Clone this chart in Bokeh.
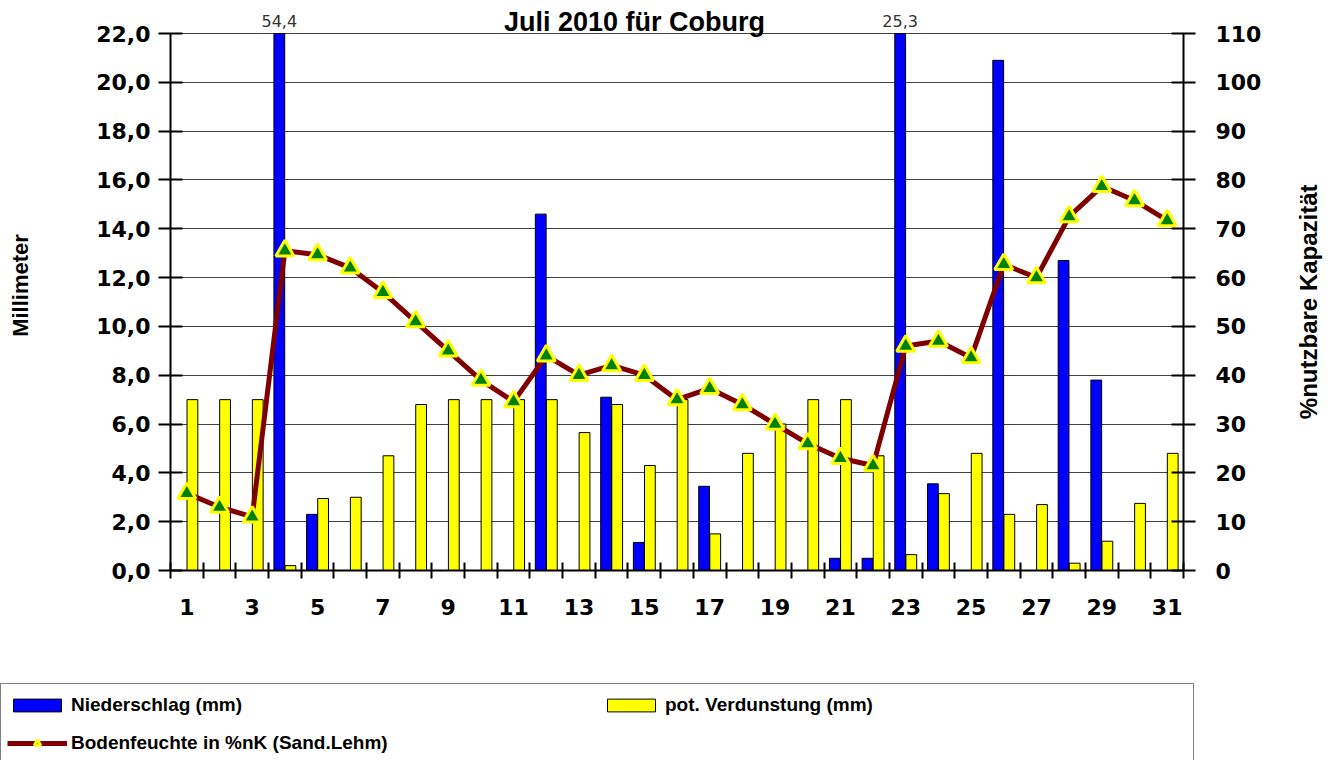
import math
from bokeh.plotting import figure
from bokeh.layouts import row, column
from bokeh.models import (ColumnDataSource, Range1d, LinearAxis, FixedTicker,
                          CustomJSTickFormatter, Legend, LegendItem)
from bokeh.transform import dodge
from bokeh.embed import file_html
from bokeh.resources import INLINE
from bokeh.core.properties import value

# ---------------- data ----------------
title_text = "Juli 2010 für Coburg"
left_label = "Millimeter"
right_label = "%nutzbare Kapazität"
days = list(range(1, 32))
niederschlag = [0, 0, 0, 54.4, 2.3, 0, 0, 0, 0, 0, 0, 14.6, 0, 7.1, 1.15, 0, 3.45, 0,
                0, 0, 0.5, 0.5, 25.3, 3.55, 0, 20.9, 0, 12.7, 7.8, 0, 0]
verdunstung = [7.0, 7.0, 7.0, 0.2, 2.95, 3.0, 4.7, 6.8, 7.0, 7.0, 7.0, 7.0, 5.65, 6.8,
               4.3, 7.0, 1.5, 4.8, 6.0, 7.0, 7.0, 4.7, 0.65, 3.15, 4.8, 2.3, 2.7, 0.3,
               1.2, 2.75, 4.8]
bodenfeuchte = [15.8, 13.0, 11.0, 65.5, 64.7, 62.0, 57.0, 51.0, 45.0, 39.0, 34.6, 44.0,
                40.0, 42.0, 40.0, 35.0, 37.3, 34.0, 30.0, 26.0, 23.0, 21.5, 46.0, 47.0,
                43.6, 62.7, 60.0, 72.5, 78.7, 75.8, 71.7]
mm_ticks = [0, 2, 4, 6, 8, 10, 12, 14, 16, 18, 20, 22]
pct_ticks = [0, 10, 20, 30, 40, 50, 60, 70, 80, 90, 100, 110]
x_labels = [d for d in days if d % 2 == 1]
legend_labels = ["Niederschlag (mm)", "pot. Verdunstung (mm)", "Bodenfeuchte in %nK (Sand.Lehm)"]
MM_MAX = 22
PCT_MAX = 110

# ---------------- layout constants (pixels) ----------------
W_MAIN, H_MAIN = 1290, 630
W_SIDE = 40
H_LEG = 130
FRAME_L, FRAME_R, FRAME_T, FRAME_B = 170, 1183, 0, 570
AXIS_TOP_PX = 33                      # where 22,0 / 110 sit
scale = (FRAME_B - FRAME_T) / (FRAME_B - AXIS_TOP_PX)
Y_TOP = MM_MAX * scale                # frame extends above the axis top (room for title/labels)
P_TOP = PCT_MAX * scale
PX_PER_MM = (FRAME_B - AXIS_TOP_PX) / MM_MAX

BLUE, YELLOW, MAROON, GREEN = "#0000ff", "#ffff00", "#800000", "#008000"
TICK_FONT = "DejaVu Sans"
LBL_FONT = "Liberation Sans"

src = ColumnDataSource(dict(day=days,
                            nied=[min(v, MM_MAX) for v in niederschlag],
                            verd=verdunstung, boden=bodenfeuchte))

over = [(d, v) for d, v in zip(days, niederschlag) if v > MM_MAX]
over_src = ColumnDataSource(dict(day=[d for d, _ in over],
                                 top=[MM_MAX for _ in over],
                                 txt=[f"{v:.1f}".replace(".", ",") for _, v in over]))

BAR_STYLE = [dict(fill_color=BLUE, line_color="#000000", line_width=1),
             dict(fill_color=YELLOW, line_color="#000000", line_width=1)]
LINE_STYLE = dict(line_color=MAROON, line_width=5)
MARK_STYLE = dict(marker="triangle", size=18, fill_color=GREEN, line_color=YELLOW, line_width=3)

# ---------------- main figure ----------------
p = figure(width=W_MAIN, height=H_MAIN,
           x_range=Range1d(0.5, 31.5), y_range=Range1d(0, Y_TOP),
           output_backend="svg", toolbar_location=None,
           min_border_left=FRAME_L, min_border_right=W_MAIN - FRAME_R,
           min_border_top=FRAME_T, min_border_bottom=H_MAIN - FRAME_B)
p.extra_y_ranges = {"pct": Range1d(0, P_TOP)}
p.outline_line_color = None
p.background_fill_color = "white"
p.border_fill_color = "white"

p.vbar(x=dodge("day", -0.17, range=p.x_range), top="nied", width=0.33, source=src, **BAR_STYLE[0])
p.vbar(x=dodge("day", 0.17, range=p.x_range), top="verd", width=0.33, source=src, **BAR_STYLE[1])
p.line(x="day", y="boden", source=src, y_range_name="pct", **LINE_STYLE)
p.scatter(x="day", y="boden", source=src, y_range_name="pct", **MARK_STYLE)

# values of bars cut at the axis top
p.text(x=dodge("day", -0.17, range=p.x_range), y="top", text="txt", source=over_src,
       y_offset=-7, text_align="center", text_baseline="bottom",
       text_font=value(TICK_FONT), text_font_size="16px", text_color="#333333")

# title
p.text(x=[14.7], y=[Y_TOP - 21 / PX_PER_MM], text=[title_text], text_align="center",
       text_baseline="alphabetic", text_font=value(LBL_FONT),
       text_font_style="bold", text_font_size="27px", text_color="black")

fmt_mm = CustomJSTickFormatter(code="return tick.toFixed(1).replace('.', ',');")

yl = p.yaxis[0]
yl.ticker = FixedTicker(ticks=mm_ticks)
yl.formatter = fmt_mm
yl.bounds = (0, MM_MAX)
yl.axis_label = left_label
yl.axis_label_text_font = LBL_FONT
yl.axis_label_text_font_style = "bold"
yl.axis_label_text_font_size = "22px"
yl.axis_label_text_color = "black"
yl.axis_label_standoff = 60
yl.major_label_text_font = TICK_FONT
yl.major_label_text_font_style = "bold"
yl.major_label_text_font_size = "22px"
yl.major_label_text_color = "black"
yl.major_label_standoff = 8
yl.major_tick_in = 12
yl.major_tick_out = 12
yl.minor_tick_line_color = None
yl.axis_line_width = 2
yl.major_tick_line_width = 2
yl.axis_line_color = "black"

yr = LinearAxis(y_range_name="pct", ticker=FixedTicker(ticks=pct_ticks), bounds=(0, PCT_MAX))
yr.major_label_text_font = TICK_FONT
yr.major_label_text_font_style = "bold"
yr.major_label_text_font_size = "22px"
yr.major_label_text_color = "black"
yr.major_label_standoff = 20
yr.major_tick_in = 12
yr.major_tick_out = 12
yr.minor_tick_line_color = None
yr.axis_line_width = 2
yr.major_tick_line_width = 2
p.add_layout(yr, "right")

xa = p.xaxis[0]
xa.ticker = FixedTicker(ticks=x_labels, minor_ticks=[d - 0.5 for d in days] + [31.5])
xa.major_tick_in = 0
xa.major_tick_out = 0
xa.minor_tick_in = 8
xa.minor_tick_out = 8
xa.minor_tick_line_width = 2
xa.minor_tick_line_color = "black"
xa.axis_line_width = 2
xa.major_label_text_font = TICK_FONT
xa.major_label_text_font_style = "bold"
xa.major_label_text_font_size = "22px"
xa.major_label_text_color = "black"
xa.major_label_standoff = 20

p.xgrid.grid_line_color = None
p.ygrid.ticker = FixedTicker(ticks=mm_ticks)
p.ygrid.grid_line_color = "#404040"
p.ygrid.grid_line_width = 1

# ---------------- right-hand axis title (reads bottom to top) ----------------
p2 = figure(width=W_SIDE, height=H_MAIN, x_range=Range1d(0, 1), y_range=Range1d(0, H_MAIN),
            output_backend="svg", toolbar_location=None,
            min_border_left=0, min_border_right=0, min_border_top=0, min_border_bottom=0)
p2.axis.visible = False
p2.grid.grid_line_color = None
p2.outline_line_color = None
p2.text(x=[0.45], y=[H_MAIN - 333], text=[right_label], angle=math.pi / 2,
        text_align="center", text_baseline="middle", text_font=value(LBL_FONT),
        text_font_style="bold", text_font_size="24px", text_color="black")

# ---------------- legend strip ----------------
W_ALL = W_MAIN + W_SIDE
p3 = figure(width=W_ALL, height=H_LEG, x_range=Range1d(0, W_ALL), y_range=Range1d(0, H_LEG),
            output_backend="svg", toolbar_location=None,
            min_border_left=0, min_border_right=0, min_border_top=0, min_border_bottom=0)
p3.extra_y_ranges = {"off": Range1d(1000, 2000)}   # proxies drawn out of view, legend only
p3.axis.visible = False
p3.grid.grid_line_color = None
p3.outline_line_color = None
e_n = p3.vbar(x="day", top="nied", width=0.33, source=src, y_range_name="off", **BAR_STYLE[0])
e_v = p3.vbar(x="day", top="verd", width=0.33, source=src, y_range_name="off", **BAR_STYLE[1])
e_l = p3.line(x="day", y="boden", source=src, y_range_name="off", **LINE_STYLE)
e_s = p3.scatter(x="day", y="boden", source=src, y_range_name="off", **MARK_STYLE)

legend = Legend(items=[
    LegendItem(label=legend_labels[0], renderers=[e_n]),
    LegendItem(label=legend_labels[1], renderers=[e_v]),
    LegendItem(label=legend_labels[2], renderers=[e_l, e_s]),
], location=(0, -5), orientation="horizontal", ncols=2)
legend.label_text_font = LBL_FONT
legend.label_text_font_style = "bold"
legend.label_text_font_size = "19px"
legend.label_text_color = "black"
legend.glyph_width = 60
legend.glyph_height = 16
legend.label_height = 30
legend.label_width = 522
legend.label_standoff = 4
legend.spacing = 8
legend.padding = 6
legend.margin = 0
legend.border_line_color = "black"
legend.border_line_width = 1
legend.background_fill_color = "white"
legend.background_fill_alpha = 1
p3.add_layout(legend)

layout = column(row(p, p2, spacing=0), p3, spacing=0)
open("out.html", "w").write(file_html(layout, INLINE))
